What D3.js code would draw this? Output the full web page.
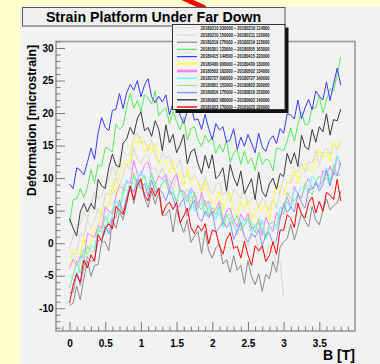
<!DOCTYPE html>
<html>
<head>
<meta charset="utf-8">
<script src="https://cdn.jsdelivr.net/npm/d3@7"></script>
<style>
  html, body { margin: 0; padding: 0; background: #ffffcc; }
  svg { display: block; }
  text { font-family: "Liberation Sans", Arial, sans-serif; }
</style>
</head>
<body>
<svg id="chart" width="380" height="364"></svg>
<script>
// Magnetic field values (T) at which deformation was sampled
const bField = [
  0.00, 0.05, 0.10, 0.15, 0.20, 0.25, 0.30, 0.35, 0.40, 0.45,
  0.50, 0.55, 0.60, 0.65, 0.70, 0.75, 0.80, 0.85, 0.90, 0.95,
  1.00, 1.05, 1.10, 1.15, 1.20, 1.25, 1.30, 1.35, 1.40, 1.45,
  1.50, 1.55, 1.60, 1.65, 1.70, 1.75, 1.80, 1.85, 1.90, 1.95,
  2.00, 2.05, 2.10, 2.15, 2.20, 2.25, 2.30, 2.35, 2.40, 2.45,
  2.50, 2.55, 2.60, 2.65, 2.70, 2.75, 2.80, 2.85, 2.90, 2.95,
  3.00, 3.05, 3.10, 3.15, 3.20, 3.25, 3.30, 3.35, 3.40, 3.45,
  3.50, 3.55, 3.60, 3.65, 3.70, 3.75, 3.80
];

// Deformation [microstrain] per run
const run20180210a = [-0.9,1.1,2.8,2.9,4.9, 3.7,5.8,7.9,6.8,7.3, 9.3,9.8,11.7,10.4,13.0, 14.1,13.5,13.6,16.2,17.0,
  15.4,15.7,14.1,15.9,13.6, 12.2,14.0,13.1,13.4,11.4, 11.6,12.9,10.1,10.8,9.7, 10.6,9.6,8.0,10.2,8.6,
  7.6,8.9,9.4,7.3,8.0, 6.3,8.2,7.6,6.8,8.4, 5.8,6.8,7.2,5.4,7.0, 6.0,5.1,6.8,5.3,8.2,
  9.9,9.4,9.2,11.2,11.0, 12.4,10.9,12.6,12.3,14.3, 12.1,13.9,14.7,13.5,15.4, 14.3,15.5];
const run20180210b = [-1.1,-1.8,-1.5,1.3,1.2, 3.6,2.3,3.7,5.3,4.2, 7.6,7.5,7.6,10.1,8.9, 10.6,12.2,11.2,14.7,12.8,
  12.2,13.4,13.6,11.4,11.6, 10.2,11.6,9.9,9.8,8.1, 10.3,8.5,7.6,8.3,6.4, 7.5,6.2,7.2,4.5,5.4,
  4.2,3.9,4.7,2.5,3.1, 3.9,2.7,1.2,3.0,1.3, -0.5,1.1,1.2,-0.9,-0.7, -2.2,0.0,-1.5,-3.0,-2.8,
  -8.2,null,null,null,null, null,null,null,null,null, null,null,null,null,null, null,null];
const run20180219 = [-9.6,-9.2,-6.6,-8.7,-5.4, -2.7,-5.1,-3.4,-3.3,0.2, 0.2,-1.2,3.6,2.3,4.8, 3.6,6.0,8.8,6.1,8.7,
  9.6,7.0,5.5,8.0,6.0, 7.8,4.2,4.4,5.2,1.7, 5.2,3.2,1.6,3.6,0.1, 1.1,1.8,-1.6,1.9,-1.2,
  -2.3,-0.7,-0.1,-3.2,-2.5, -4.5,-1.9,-4.2,-3.4,-6.2, -2.7,-5.1,-6.4,-4.7,-7.4, -4.8,-5.5,-2.8,-4.5,-0.6,
  0.2,0.7,2.9,0.5,2.4, 4.6,3.4,2.5,5.7,3.6, 2.8,5.0,6.8,5.1,5.8, 6.2,8.0];
const run20180301 = [3.1,6.7,6.8,8.4,7.0, 8.6,11.3,9.2,12.1,11.8, 14.7,14.5,14.0,18.3,17.5, 18.0,21.0,23.0,20.7,22.0,
  20.2,22.8,22.3,21.4,23.4, 19.6,20.4,20.8,18.3,20.3, 18.7,17.4,19.4,15.8,17.6, 17.9,15.9,14.8,16.6,15.5,
  16.4,13.8,15.2,14.0,15.8, 12.4,13.9,14.4,12.1,14.2, 12.2,13.1,11.2,14.0,12.1, 12.9,12.7,11.1,14.6,14.5,
  14.2,15.8,17.7,15.6,18.3, 20.2,18.2,18.3,21.0,20.7, 22.7,20.0,22.0,23.7,23.3, 26.0,28.6];
const run20180415 = [9.1,8.4,11.6,11.2,10.5, 12.4,14.6,12.9,17.0,19.3, 17.8,17.3,20.4,20.6,23.0, 20.7,23.1,24.4,23.5,25.0,
  22.5,24.3,25.3,22.5,21.6, 22.6,21.7,22.8,19.7,21.6, 21.7,19.6,18.4,20.3,21.1, 18.9,19.1,17.5,19.8,17.6,
  15.9,18.4,17.4,17.9,15.5, 15.9,17.6,14.4,16.3,14.9, 16.7,15.4,13.9,16.9,14.8, 14.1,15.8,16.5,15.3,17.6,
  16.9,19.9,19.7,19.1,22.0, 19.1,20.8,22.1,20.5,23.4, 22.6,22.0,24.8,21.9,24.5, 26.9,24.3];
const run20180430 = [-3.6,-0.8,-1.1,-1.9,0.9, -2.2,0.3,2.4,1.7,5.4, 5.5,5.7,9.3,7.2,10.6, 12.5,12.1,12.5,15.9,15.1,
  16.4,14.0,15.2,13.8,15.4, 12.3,12.5,12.8,10.8,12.6, 10.4,11.0,8.8,11.4,9.3, 9.8,9.3,7.4,9.4,7.8,
  5.9,6.7,7.9,5.0,6.7, 7.8,5.1,4.4,6.3,5.3, 6.7,3.4,4.7,5.9,4.9, 6.3,3.6,6.5,9.0,7.9,
  7.4,9.3,9.7,11.1,9.2, 11.4,12.2,11.3,10.9,13.0, 14.5,13.1,14.0,12.6,15.6, 14.7,16.0];
const run20180502 = [-3.9,-2.5,-3.5,-2.0,-2.4, 1.5,1.2,0.9,2.7,2.3, 5.6,4.9,4.5,7.4,8.8, 8.3,9.6,9.2,12.7,10.7,
  10.4,12.0,12.5,10.3,9.1, 10.3,9.8,10.6,8.2,9.8, 10.7,7.9,8.0,6.9,8.5, 7.5,5.3,7.8,5.7,6.5,
  4.4,5.3,6.4,3.4,5.0, 5.4,3.5,2.5,4.5,3.4, 4.6,2.2,2.6,3.4,1.1, 4.0,2.7,1.8,4.8,3.6,
  5.8,7.1,5.4,8.7,7.5, 7.0,8.9,10.0,8.4,9.1, 8.6,11.2,10.6,11.8,10.4, 13.3,12.1];
const run20180727 = [-4.9,-5.6,-5.5,-2.7,-0.9, -1.7,-0.3,-0.8,2.5,1.6, 1.3,4.7,5.0,6.6,5.6, 7.2,9.8,7.9,10.5,9.4,
  11.1,10.0,8.4,10.9,8.9, 8.0,9.4,9.9,7.5,8.1, 6.4,8.4,7.5,6.3,8.2, 4.9,5.7,6.2,4.1,6.0,
  4.7,3.6,5.5,2.4,4.2, 4.5,2.7,1.8,3.6,2.7, 3.7,1.4,2.8,1.9,3.6, 0.6,2.2,2.7,2.1,5.5,
  5.1,6.4,5.1,8.3,7.5, 8.7,8.6,7.7,10.3,9.6, 8.6,9.5,11.6,9.6,11.5, 13.5,11.7];
const run20180801 = [-6.9,-4.9,-2.7,-4.6,-2.0, -0.5,-1.2,-1.2,1.9,1.7, 4.2,2.8,4.1,5.9,4.6, 8.4,8.1,8.1,10.8,8.5,
  9.5,10.4,8.1,10.8,8.6, 7.9,9.2,9.7,7.5,7.8, 6.3,8.5,6.8,7.3,5.2, 7.9,5.9,5.1,6.6,4.2,
  5.5,4.4,5.9,2.9,4.3, 3.3,3.2,4.3,1.9,2.8, 4.0,3.0,1.6,3.9,2.0, 0.8,2.9,3.3,2.6,4.5,
  4.4,7.8,6.9,6.5,7.4, 6.8,9.2,8.3,7.4,9.5, 10.3,9.6,10.1,8.8,12.1, 10.5,10.5];
const run20180816 = [-7.6,-7.6,-4.6,-6.5,-3.6, -2.2,-2.8,-2.5,0.4,0.6, 2.7,1.4,3.8,3.9,6.6, 4.6,7.2,8.7,7.8,9.9,
  8.3,9.2,7.2,9.7,7.8, 8.4,7.8,6.5,8.3,7.0, 5.3,5.9,6.9,4.2,5.8, 6.6,4.1,3.3,4.9,3.9,
  4.9,1.7,2.4,3.3,2.4, 3.2,0.6,1.9,3.2,0.9, 0.2,1.5,0.9,2.1,-0.5, 1.4,1.6,-0.1,0.4,3.8,
  6.0,4.7,5.6,4.8,7.6, 6.2,5.4,8.3,8.3,9.4, 8.0,9.0,11.2,8.8,11.0, 10.3,12.4];
const run20180902 = [3.8,2.3,1.1,4.8,6.1, 4.8,6.1,5.2,9.8,8.8, 8.4,11.6,13.7,12.0,11.7, 15.4,16.0,17.8,16.7,19.2,
  20.2,17.3,17.8,16.4,18.8, 17.5,14.2,18.2,15.4,16.7, 13.9,15.1,16.7,12.2,14.0, 14.5,12.2,10.7,13.5,11.5,
  13.6,9.9,10.5,11.6,8.0, 12.1,10.1,8.8,11.1,7.6, 8.7,9.9,6.7,10.9,7.9, 7.1,9.1,10.0,8.3,10.7,
  10.2,13.8,12.2,13.9,11.8, 16.6,14.8,14.4,17.5,15.5, 17.9,17.1,19.9,16.6,19.0, 18.8,20.6];
const run20181023 = [-9.2,-6.4,-4.7,-6.0,-2.6, -3.8,-1.8,-2.8,1.3,0.3, 2.2,3.0,2.2,5.6,5.1, 4.4,6.4,8.8,6.7,9.0,
  9.9,7.4,6.5,8.5,7.2, 8.5,4.4,5.7,6.3,5.2, 6.3,3.1,4.2,5.4,2.4, 1.5,2.7,1.9,3.0,-0.1,
  2.0,1.8,-0.4,-1.7,0.6, 1.6,-0.8,-0.5,-2.3,0.3, -1.8,-3.4,-0.4,-1.2,-0.4, -2.8,-1.9,0.2,-1.7,2.0,
  2.0,4.4,3.8,2.4,6.2, 4.4,3.9,6.2,7.1,4.7, 6.4,4.9,7.8,7.4,6.7, 9.8,6.5];

// Legend labels (run time windows)
const runLabels = [
  "20180210 030000 \u2013 20180210 114800",
  "20180210 150000 \u2013 20180211 120000",
  "20180219 175000 \u2013 20180219 123000",
  "20180301 123000 \u2013 20180305 163000",
  "20180415 144500 \u2013 20180415 220000",
  "20180430 000000 \u2013 20180430 130000",
  "20180502 162000 \u2013 20180502 134000",
  "20180727 090000 \u2013 20180727 140000",
  "20180801 152000 \u2013 20180803 200000",
  "20180816 175000 \u2013 20180816 233000",
  "20180902 080000 \u2013 20180902 140000",
  "20181023 170000 \u2013 20181023 220000"
];

// Axis ticks
const xTicks = [0, 0.5, 1, 1.5, 2, 2.5, 3, 3.5];
const xTickLabels = ["0", "0.5", "1", "1.5", "2", "2.5", "3", "3.5"];
const yTicks = [-10, -5, 0, 5, 10, 15, 20, 25, 30];
const yTickLabels = ["-10", "-5", "0", "5", "10", "15", "20", "25", "30"];

const chartTitle = "Strain Platform Under Far Down";
const xTitle = "B [T]";
const yTitle = "Deformation [microstrain]";

// ---- drawing ----
const seriesValues = [run20180210a, run20180210b, run20180219, run20180301, run20180415, run20180430,
  run20180502, run20180727, run20180801, run20180816, run20180902, run20181023];
const lineColors = ["#d6dac6", "#dcd6c6", "#8a8a8a", "#55ee55", "#3a3aff", "#ffff3c",
  "#ff7cff", "#5cffff", "#88e888", "#9090ff", "#3a3a3a", "#ff0000"];
const legendWidths = [1, 1, 1.2, 1.2, 1.2, 2, 2.6, 1.4, 1, 1.4, 1.4, 1.4];

const svg = d3.select("#chart");
const frame = { left: 56, right: 355, top: 41.5, bottom: 331 };

const x = d3.scaleLinear().domain([-0.19, 4.0]).range([frame.left, frame.right]);
const y = d3.scaleLinear().domain([-13.5, 31]).range([frame.bottom, frame.top]);

// canvas pad
svg.append("rect").attr("x", 20).attr("y", 6).attr("width", 360).attr("height", 358)
  .attr("fill", "#f2f2f2");
svg.append("line").attr("x1", 20).attr("x2", 380).attr("y1", 6.5).attr("y2", 6.5)
  .attr("stroke", "#fafafa");

// red pointer stroke at the top
svg.append("line").attr("x1", 183).attr("y1", -2).attr("x2", 205).attr("y2", 8)
  .attr("stroke", "#ff0000").attr("stroke-width", 5);

// plot lines
svg.append("clipPath").attr("id", "plotclip").append("rect")
  .attr("x", frame.left).attr("y", frame.top)
  .attr("width", frame.right - frame.left).attr("height", frame.bottom - frame.top);

const line = d3.line()
  .defined(d => d[1] !== null)
  .x(d => x(d[0]))
  .y(d => y(d[1]));

const plot = svg.append("g").attr("clip-path", "url(#plotclip)");
seriesValues.forEach((vals, i) => {
  plot.append("path")
    .datum(bField.map((b, k) => [b, vals[k]]))
    .attr("fill", "none")
    .attr("stroke", lineColors[i])
    .attr("stroke-width", 1)
    .attr("stroke-linejoin", "round")
    .attr("d", line);
});

// frame
svg.append("rect")
  .attr("x", frame.left).attr("y", frame.top)
  .attr("width", frame.right - frame.left).attr("height", frame.bottom - frame.top)
  .attr("fill", "none").attr("stroke", "#9a9a9a").attr("stroke-width", 1.6);

// axes
const tickColor = "#7a7a7a";
const xMinor = d3.range(-1, 40).map(k => k / 10).filter(v => Math.round(v * 10) % 5 !== 0);
const yMinor = d3.range(-13, 32).filter(v => v % 5 !== 0);

function styleAxis(g) {
  g.select(".domain").remove();
  g.selectAll(".tick line").attr("stroke", tickColor).attr("stroke-width", 1);
  g.selectAll(".tick text").attr("fill", "#000").attr("font-weight", "bold")
    .attr("font-size", 10).attr("font-family", "Liberation Sans, Arial, sans-serif");
}

svg.append("g").attr("transform", `translate(0,${frame.bottom})`)
  .call(d3.axisBottom(x).tickValues(xMinor).tickSize(-4.5).tickFormat(""))
  .call(styleAxis);
svg.append("g").attr("transform", `translate(0,${frame.bottom})`)
  .call(d3.axisBottom(x).tickValues(xTicks).tickSize(-9).tickPadding(9)
    .tickFormat((d, i) => xTickLabels[i]))
  .call(styleAxis);

svg.append("g").attr("transform", `translate(${frame.left},0)`)
  .call(d3.axisLeft(y).tickValues(yMinor).tickSize(-4.5).tickFormat(""))
  .call(styleAxis);
svg.append("g").attr("transform", `translate(${frame.left},0)`)
  .call(d3.axisLeft(y).tickValues(yTicks).tickSize(-9).tickPadding(2.5)
    .tickFormat((d, i) => yTickLabels[i]))
  .call(styleAxis);

// axis titles
svg.append("text")
  .attr("x", frame.right).attr("y", 360)
  .attr("text-anchor", "end").attr("font-weight", "bold").attr("font-size", 14)
  .text(xTitle);
svg.append("text")
  .attr("transform", `translate(35.5,${frame.top + 3.5}) rotate(-90)`)
  .attr("text-anchor", "end").attr("font-weight", "bold").attr("font-size", 12.3)
  .text(yTitle);

// title box
svg.append("rect").attr("x", 22.5).attr("y", 7.5).attr("width", 262.5).attr("height", 18.5)
  .attr("fill", "#f0f0f0").attr("stroke", "#555").attr("stroke-width", 1);
svg.append("text").attr("x", 153.5).attr("y", 21.5).attr("text-anchor", "middle")
  .attr("font-weight", "bold").attr("font-size", 14.2).text(chartTitle);

// legend
const lg = svg.append("g");
lg.append("rect").attr("x", 175.5).attr("y", 27.5).attr("width", 113).attr("height", 85.5)
  .attr("fill", "#111");
lg.append("rect").attr("x", 172.5).attr("y", 24.5).attr("width", 112.5).attr("height", 85)
  .attr("fill", "#f2f2f2").attr("stroke", "#333").attr("stroke-width", 1);
runLabels.forEach((lab, i) => {
  const ry = 27.8 + i * 7.2;
  lg.append("line").attr("x1", 177).attr("x2", 197).attr("y1", ry).attr("y2", ry)
    .attr("stroke", lineColors[i]).attr("stroke-width", legendWidths[i]);
  lg.append("text").attr("x", 200.5).attr("y", ry + 1.7)
    .attr("font-size", 4.8).attr("font-weight", "bold").attr("fill", "#111")
    .attr("textLength", 69).attr("lengthAdjust", "spacingAndGlyphs")
    .text(lab);
});
</script>
</body>
</html>
